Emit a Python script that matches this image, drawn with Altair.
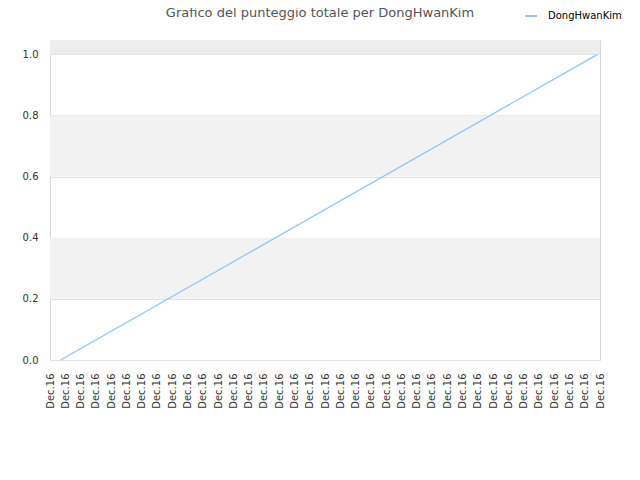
import json
import altair as alt
import pandas as pd

title_text = "Grafico del punteggio totale per DongHwanKim"
series_name = "DongHwanKim"
tick_labels = ["Dec.16"] * 37
tick_positions = list(range(37))
line_x = [0.70, 35.84]
line_y = [0.0, 1.0]
band_lo = [0.2, 0.6, 1.0]
band_hi = [0.4, 0.8, 1.047]
band_col = ["#f2f2f2", "#f2f2f2", "#ededed"]
y_ticks = [0.0, 0.2, 0.4, 0.6, 0.8, 1.0]

line_df = pd.DataFrame({"x": line_x, "y": line_y, "serie": [series_name] * len(line_x)})
band_df = pd.DataFrame({"lo": band_lo, "hi": band_hi, "c": band_col})
title_df = pd.DataFrame({"t": [title_text]})

xscale = alt.Scale(domain=[0, 36], nice=False, zero=False)
yscale = alt.Scale(domain=[0, 1.047], nice=False)

label_expr = json.dumps(tick_labels) + "[round(datum.value)]"

bands = alt.Chart(band_df).mark_rect().encode(
    y=alt.Y("lo:Q", scale=yscale, axis=alt.Axis(
        title=None, values=y_ticks, format=".1f", grid=True, gridColor="#e2e2e2",
        domain=False, ticks=False, labelPadding=12, labelFontSize=10,
        labelColor="#333333", labelFont="DejaVu Sans")),
    y2="hi:Q",
    x=alt.value(0),
    x2=alt.value(550),
    color=alt.Color("c:N", scale=None),
)

line = alt.Chart(line_df).mark_line(strokeWidth=1.2).encode(
    x=alt.X("x:Q", scale=xscale, axis=alt.Axis(
        title=None, values=tick_positions, labelExpr=label_expr, grid=False,
        domain=False, ticks=False, labelAngle=-90, labelPadding=13,
        labelFontSize=10, labelColor="#333333", labelFont="DejaVu Sans",
        labelOverlap=False, labelFlush=False, labelBound=False)),
    y=alt.Y("y:Q", scale=yscale),
    stroke=alt.Stroke("serie:N", scale=alt.Scale(range=["#93c3f3"]), legend=alt.Legend(
        title=None, orient="none", legendX=474, legendY=-31, symbolType="stroke",
        symbolSize=144, symbolStrokeWidth=2, labelFontSize=10, labelColor="#000000",
        labelFont="DejaVu Sans", labelOffset=10, padding=0)),
)

title = alt.Chart(title_df).mark_text(
    fontSize=13, font="DejaVu Sans", color="#555555", align="center",
    baseline="alphabetic"
).encode(x=alt.value(270), y=alt.value(-23), text="t:N")

chart = alt.layer(bands, line, title).resolve_scale(color="independent").properties(
    width=550,
    height=320,
    autosize=alt.AutoSizeParams(type="none"),
    padding={"left": 42, "top": 32, "right": 30, "bottom": 60},
).configure_view(stroke="#d6d6d6", strokeWidth=1)

chart.save("out.html", embed_options={"renderer": "svg", "actions": False})
